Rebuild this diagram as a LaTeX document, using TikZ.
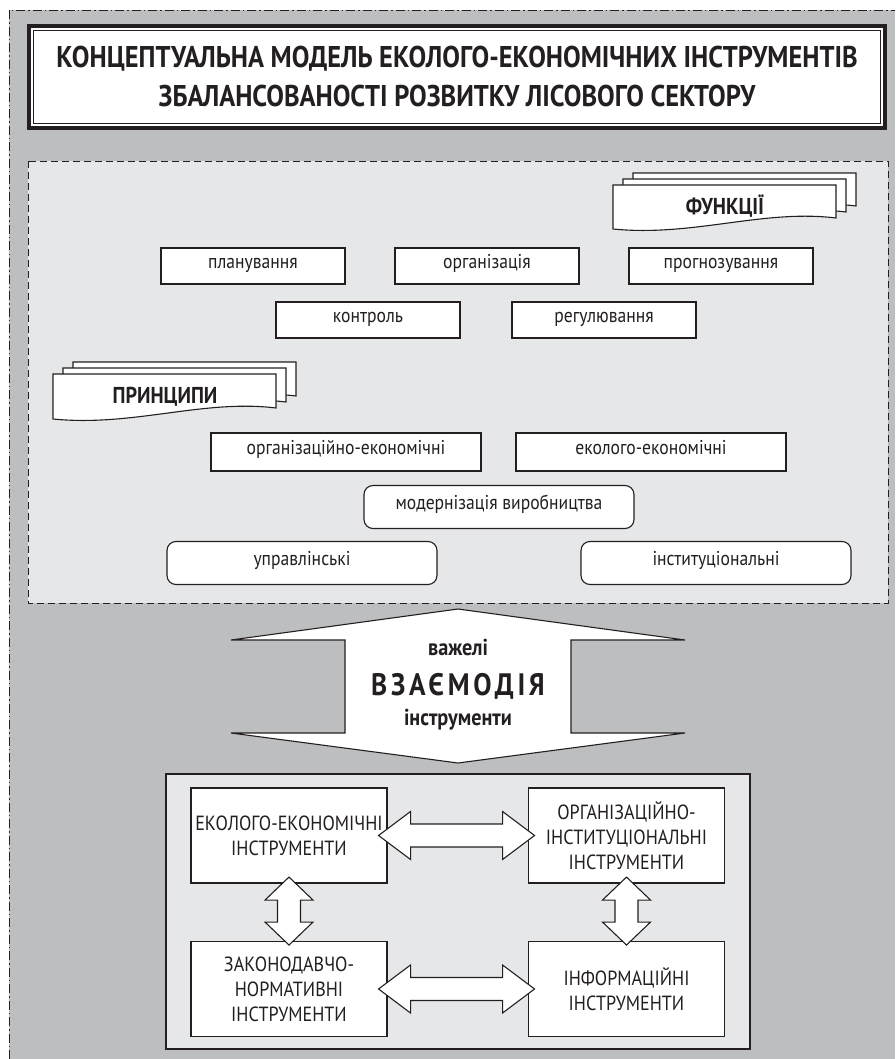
\documentclass[tikz,border=0pt]{standalone}
\usepackage{fontspec}
\setmainfont{PT Sans}[FakeStretch=0.88]
\definecolor{bggray}{HTML}{BCBEC0}
\definecolor{panelgray}{HTML}{E6E7E8}
\definecolor{ink}{HTML}{231F20}

\begin{document}
\begin{tikzpicture}[x=1pt,y=-1pt]
 \tikzstyle{every node}=[text=ink, font=\fontsize{20}{24}\selectfont]
 \tikzstyle{func}=[draw=ink, fill=white, line width=1.1pt, minimum width=184pt, minimum height=36pt, inner sep=0pt, text height=1ex, text depth=0pt]
 \tikzstyle{princ}=[func, minimum width=270pt, minimum height=38pt]
 \tikzstyle{princr}=[princ, rounded corners=9pt, minimum height=43pt]
 \tikzstyle{tool}=[draw=ink, fill=white, line width=1.1pt, minimum width=196pt, minimum height=95pt, inner sep=2pt, align=center, font=\fontsize{20.5}{25}\selectfont]
 \tikzstyle{sheet}=[draw=ink, fill=white, line width=1.1pt]
 \tikzstyle{blockarr}=[draw=ink, fill=white, line width=1.1pt, line join=miter]
 \tikzstyle{flagtext}=[anchor=base, font=\bfseries\fontsize{23}{26}\selectfont]
 \tikzstyle{arrtext}=[anchor=base, font=\bfseries\fontsize{23}{26}\selectfont]

 \useasboundingbox (0,0) rectangle (895,1059);
 \fill[white] (0,0) rectangle (895,1059);
 \fill[bggray] (9,10) rectangle (895,1059);
 \draw[ink, line width=0.8pt, dash pattern=on 9pt off 3pt on 1.5pt off 3pt] (9,1059) -- (9,10) -- (895,10);

 % title
 \node[draw=ink, fill=white, line width=4pt, minimum width=856pt, minimum height=102pt, align=center, font=\bfseries\fontsize{30}{39}\selectfont] (title) at (457,77)
  {КОНЦЕПТУАЛЬНА МОДЕЛЬ ЕКОЛОГО-ЕКОНОМІЧНИХ ІНСТРУМЕНТІВ\\ЗБАЛАНСОВАНОСТІ РОЗВИТКУ ЛІСОВОГО СЕКТОРУ};
 \draw[ink, line width=1.2pt] ([shift={(6.5,6.5)}]title.north west) rectangle ([shift={(-6.5,-6.5)}]title.south east);

 % functions and principles
 \draw[ink, fill=panelgray, line width=0.9pt, dash pattern=on 7pt off 4pt] (28,161) rectangle (888,603);

 \foreach \d in {20,10,0}
  \draw[sheet, xshift=\d*1pt, yshift=0.6*\d*1pt] (613,185) -- (836,185) -- (836,218) .. controls (763,209) and (693,237) .. (613,229) -- cycle;
 \node[flagtext] (funk) at (725,215) {ФУНКЦІЇ};

 \node[func] (plan) at (253,266) {планування};
 \node[func] (orgf) at (487,266) {організація};
 \node[func] (prog) at (721,266) {прогнозування};
 \node[func] (ctrl) at (368,320) {контроль};
 \node[func] (reg) at (604,320) {регулювання};

 \foreach \d in {20,10,0}
  \draw[sheet, xshift=\d*1pt, yshift=0.6*\d*1pt] (53,374) -- (276,374) -- (276,408) .. controls (203,399) and (133,427) .. (53,419) -- cycle;
 \node[flagtext] (princ) at (165,403) {ПРИНЦИПИ};

 \node[princ] (oe) at (346,452) {організаційно-економічні};
 \node[princ] (ee) at (651,452) {еколого-економічні};
 \node[princr] (mod) at (499,507) {модернізація виробництва};
 \node[princr] (upr) at (302,563) {управлінські};
 \node[princr] (inst) at (716,563) {інституціональні};

 % interaction
 \draw[blockarr] (458,609) -- (685,640) -- (571,640) -- (571,733) -- (685,733) -- (458,763) -- (231,733) -- (345,733) -- (345,640) -- (231,640) -- cycle;
 \node[arrtext] (lev) at (458,655) {важелі};
 \node[arrtext, font=\bfseries\fontsize{31}{36}\selectfont\addfontfeature{LetterSpace=12}] (inter) at (458,695) {ВЗАЄМОДІЯ};
 \node[arrtext] (instr) at (458,725) {інструменти};

 % instruments
 \draw[ink, fill=panelgray, line width=1.1pt] (166,774) rectangle (750,1049);
 \node[tool] (eco) at (289,835.5) {ЕКОЛОГО-ЕКОНОМІЧНІ\\ІНСТРУМЕНТИ};
 \node[tool] (oi) at (626.5,835.5) {ОРГАНІЗАЦІЙНО-\\ІНСТИТУЦІОНАЛЬНІ\\ІНСТРУМЕНТИ};
 \node[tool] (law) at (289,989) {ЗАКОНОДАВЧО-\\НОРМАТИВНІ\\ІНСТРУМЕНТИ};
 \node[tool] (info) at (626.5,989) {ІНФОРМАЦІЙНІ\\ІНСТРУМЕНТИ};

 \draw[blockarr] ([xshift=-9pt]eco.east) -- ++(32,-24) -- ++(0,12.5) -- ++(92,0) -- ++(0,-12.5) -- ++(32,24) -- ++(-32,24) -- ++(0,-12.5) -- ++(-92,0) -- ++(0,12.5) -- cycle;
 \draw[blockarr] ([xshift=-9pt]law.east) -- ++(32,-24) -- ++(0,12.5) -- ++(92,0) -- ++(0,-12.5) -- ++(32,24) -- ++(-32,24) -- ++(0,-12.5) -- ++(-92,0) -- ++(0,12.5) -- cycle;
 \draw[blockarr] ([yshift=6.5pt]eco.south) -- ++(-24,23) -- ++(12.5,0) -- ++(0,22) -- ++(-12.5,0) -- ++(24,23) -- ++(24,-23) -- ++(-12.5,0) -- ++(0,-22) -- ++(12.5,0) -- cycle;
 \draw[blockarr] ([yshift=6.5pt]oi.south) -- ++(-24,23) -- ++(12.5,0) -- ++(0,22) -- ++(-12.5,0) -- ++(24,23) -- ++(24,-23) -- ++(-12.5,0) -- ++(0,-22) -- ++(12.5,0) -- cycle;
\end{tikzpicture}
\end{document}
